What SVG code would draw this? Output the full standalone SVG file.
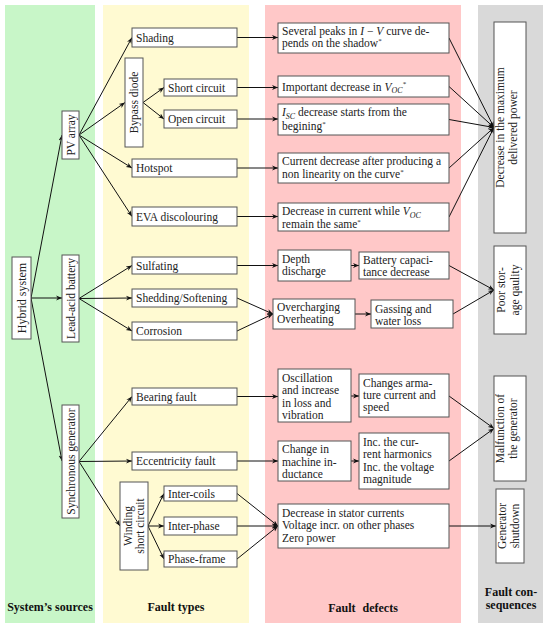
<svg xmlns="http://www.w3.org/2000/svg" width="550" height="629" viewBox="0 0 550 629">
<style>
.bx{fill:#fff;stroke:#555;stroke-width:1}
text{font-family:"Liberation Serif","Times New Roman",serif;font-size:11.5px;fill:#222}
.c{text-anchor:middle}
.b{font-weight:bold;font-size:12px;text-anchor:middle;fill:#111}
.i{font-style:italic}
.cn line{stroke:#111;stroke-width:1;marker-end:url(#a)}
</style>
<defs>
<marker id="a" viewBox="0 0 10 10" refX="10" refY="5" markerWidth="6" markerHeight="6" orient="auto" markerUnits="userSpaceOnUse">
<path d="M0,1 L10,5 L0,9 L3,5 z" fill="#111"/>
</marker>
</defs>
<g id="bg">
<rect x="5" y="5" width="90" height="618" fill="#c8f6c8"/>
<rect x="103" y="5" width="146" height="618" fill="#fffad2"/>
<rect x="265" y="5" width="196" height="618" fill="#ffc8c8"/>
<rect x="478" y="5" width="65" height="618" fill="#d9d9d9"/>
</g>
<g class="cn" id="connectors">
<line x1="31" y1="298" x2="62" y2="135"/>
<line x1="31" y1="298" x2="62" y2="298"/>
<line x1="31" y1="298" x2="62" y2="461"/>
<line x1="79" y1="135" x2="132" y2="37.5"/>
<line x1="79" y1="135" x2="125" y2="102.5"/>
<line x1="79" y1="135" x2="132" y2="168"/>
<line x1="79" y1="135" x2="132" y2="216.5"/>
<line x1="143" y1="102.5" x2="164" y2="87.5"/>
<line x1="143" y1="102.5" x2="164" y2="119"/>
<line x1="79" y1="298.5" x2="132" y2="265.5"/>
<line x1="79" y1="298.5" x2="132" y2="298"/>
<line x1="79" y1="298.5" x2="132" y2="331"/>
<line x1="79" y1="461.5" x2="132" y2="396.5"/>
<line x1="79" y1="461.5" x2="132" y2="461"/>
<line x1="79" y1="461.5" x2="120" y2="526"/>
<line x1="148" y1="526" x2="164" y2="493.5"/>
<line x1="148" y1="526" x2="164" y2="526"/>
<line x1="148" y1="526" x2="164" y2="559"/>
<line x1="237" y1="37.5" x2="278" y2="37.5"/>
<line x1="237" y1="87.5" x2="278" y2="87.5"/>
<line x1="237" y1="119" x2="278" y2="119"/>
<line x1="237" y1="168" x2="278" y2="168"/>
<line x1="237" y1="216.5" x2="278" y2="216.5"/>
<line x1="237" y1="265.5" x2="278" y2="265.5"/>
<line x1="351" y1="265.5" x2="359" y2="265.5"/>
<line x1="237" y1="298" x2="273" y2="314"/>
<line x1="237" y1="331" x2="273" y2="314"/>
<line x1="355" y1="314" x2="371" y2="314"/>
<line x1="237" y1="396.5" x2="278" y2="396.5"/>
<line x1="351" y1="396" x2="359" y2="396"/>
<line x1="237" y1="461" x2="278" y2="461"/>
<line x1="351" y1="461" x2="359" y2="461"/>
<line x1="237" y1="493.5" x2="278" y2="526"/>
<line x1="237" y1="526" x2="278" y2="526"/>
<line x1="237" y1="559" x2="278" y2="526"/>
<line x1="449" y1="38" x2="494" y2="127.5"/>
<line x1="449" y1="86.5" x2="494" y2="127.5"/>
<line x1="449" y1="119.5" x2="494" y2="127.5"/>
<line x1="449" y1="168" x2="494" y2="127.5"/>
<line x1="449" y1="217" x2="494" y2="127.5"/>
<line x1="449" y1="265.5" x2="494" y2="290"/>
<line x1="453" y1="314" x2="494" y2="290"/>
<line x1="449" y1="396" x2="494" y2="428.5"/>
<line x1="449" y1="461" x2="494" y2="428.5"/>
<line x1="449" y1="526" x2="496" y2="526"/>
</g>
<g id="hybrid"><rect class="bx" x="12" y="257" width="19" height="82"/><text class="c" transform="translate(21.5,298) rotate(-90)" y="4.5" style="font-size:12px">Hybrid system</text></g>
<g id="pv"><rect class="bx" x="62" y="111" width="17" height="48"/><text class="c" transform="translate(70.5,135) rotate(-90)" y="4">PV array</text></g>
<g id="battery"><rect class="bx" x="62" y="255" width="17" height="87"/><text class="c" transform="translate(70.5,298.5) rotate(-90)" y="4">Lead-acid battery</text></g>
<g id="generator"><rect class="bx" x="62" y="405" width="17" height="113"/><text class="c" transform="translate(70.5,461.5) rotate(-90)" y="4">Synchronous generator</text></g>
<g id="shading"><rect class="bx" x="132" y="28" width="105" height="19"/><text x="136" y="41.5">Shading</text></g>
<g id="bypass"><rect class="bx" x="125" y="58" width="18" height="89"/><text class="c" transform="translate(134,102.5) rotate(-90)" y="4">Bypass diode</text></g>
<g id="short"><rect class="bx" x="164" y="79" width="73" height="17"/><text x="168" y="91.5">Short circuit</text></g>
<g id="open"><rect class="bx" x="164" y="110" width="73" height="18"/><text x="168" y="123">Open circuit</text></g>
<g id="hotspot"><rect class="bx" x="132" y="159" width="105" height="18"/><text x="136" y="172">Hotspot</text></g>
<g id="eva"><rect class="bx" x="132" y="207" width="105" height="19"/><text x="136" y="220.5">EVA discolouring</text></g>
<g id="sulfating"><rect class="bx" x="132" y="257" width="105" height="17"/><text x="136" y="269.5">Sulfating</text></g>
<g id="shedding"><rect class="bx" x="132" y="289" width="105" height="18"/><text x="136" y="302">Shedding/Softening</text></g>
<g id="corrosion"><rect class="bx" x="132" y="322" width="105" height="18"/><text x="136" y="335">Corrosion</text></g>
<g id="bearing"><rect class="bx" x="132" y="388" width="105" height="17"/><text x="136" y="400.5">Bearing fault</text></g>
<g id="eccentricity"><rect class="bx" x="132" y="452" width="105" height="18"/><text x="136" y="465">Eccentricity fault</text></g>
<g id="winding"><rect class="bx" x="120" y="482" width="28" height="88"/><text class="c" transform="translate(134,526) rotate(-90)"><tspan x="0" y="-2">Winding</tspan><tspan x="0" y="10">short circuit</tspan></text></g>
<g id="intercoils"><rect class="bx" x="164" y="486" width="73" height="15"/><text x="168" y="497.5">Inter-coils</text></g>
<g id="interphase"><rect class="bx" x="164" y="517" width="73" height="18"/><text x="168" y="530">Inter-phase</text></g>
<g id="phaseframe"><rect class="bx" x="164" y="551" width="73" height="16"/><text x="168" y="563">Phase-frame</text></g>
<g id="peaks"><rect class="bx" x="278" y="23" width="171" height="30"/><text><tspan x="282" y="34.5">Several peaks in <tspan class="i">I</tspan> − <tspan class="i">V</tspan> curve de-</tspan><tspan x="282" y="47">pends on the shadow<tspan font-size="7" dy="-4">*</tspan></tspan></text></g>
<g id="voc"><rect class="bx" x="278" y="76" width="171" height="21"/><text x="282" y="90.5">Important decrease in <tspan class="i">V</tspan><tspan class="i" font-size="8" dy="2.5">OC</tspan><tspan font-size="7" dy="-7">*</tspan></text></g>
<g id="isc"><rect class="bx" x="278" y="104" width="171" height="31"/><text><tspan x="282" y="116"><tspan class="i">I</tspan><tspan class="i" font-size="8" dy="2.5">SC</tspan><tspan dy="-2.5"> decrease starts from the</tspan></tspan><tspan x="282" y="129.5">begining<tspan font-size="7" dy="-4">*</tspan></tspan></text></g>
<g id="nonlin"><rect class="bx" x="278" y="153" width="171" height="30"/><text><tspan x="282" y="165">Current decrease after producing a</tspan><tspan x="282" y="178">non linearity on the curve<tspan font-size="7" dy="-4">*</tspan></tspan></text></g>
<g id="same"><rect class="bx" x="278" y="203" width="171" height="28"/><text><tspan x="282" y="215">Decrease in current while <tspan class="i">V</tspan><tspan class="i" font-size="8" dy="2.5">OC</tspan></tspan><tspan x="282" y="227.5">remain the same<tspan font-size="7" dy="-4">*</tspan></tspan></text></g>
<g id="depth"><rect class="bx" x="278" y="250" width="73" height="31"/><text><tspan x="282" y="262.5">Depth</tspan><tspan x="282" y="275">discharge</tspan></text></g>
<g id="capacitance"><rect class="bx" x="359" y="252" width="90" height="27"/><text><tspan x="363" y="263.5">Battery capaci-</tspan><tspan x="363" y="275.5">tance decrease</tspan></text></g>
<g id="overcharging"><rect class="bx" x="273" y="299" width="82" height="30"/><text><tspan x="277" y="311">Overcharging</tspan><tspan x="277" y="323">Overheating</tspan></text></g>
<g id="gassing"><rect class="bx" x="371" y="300" width="82" height="28"/><text><tspan x="375" y="312.5">Gassing and</tspan><tspan x="375" y="324.5">water loss</tspan></text></g>
<g id="oscillation"><rect class="bx" x="278" y="369" width="73" height="53"/><text><tspan x="282" y="381.5">Oscillation</tspan><tspan x="282" y="394">and increase</tspan><tspan x="282" y="406.5">in loss and</tspan><tspan x="282" y="419">vibration</tspan></text></g>
<g id="armature"><rect class="bx" x="359" y="374" width="90" height="43"/><text><tspan x="363" y="386.5">Changes arma-</tspan><tspan x="363" y="399">ture current and</tspan><tspan x="363" y="411">speed</tspan></text></g>
<g id="inductance"><rect class="bx" x="278" y="441" width="73" height="40"/><text><tspan x="282" y="453">Change in</tspan><tspan x="282" y="465.5">machine in-</tspan><tspan x="282" y="478">ductance</tspan></text></g>
<g id="harmonics"><rect class="bx" x="359" y="433" width="90" height="56"/><text><tspan x="363" y="445.5">Inc.  the cur-</tspan><tspan x="363" y="458">rent harmonics</tspan><tspan x="363" y="470.5">Inc.  the voltage</tspan><tspan x="363" y="483">magnitude</tspan></text></g>
<g id="stator"><rect class="bx" x="278" y="504" width="171" height="44"/><text><tspan x="282" y="516.5">Decrease in stator currents</tspan><tspan x="282" y="529">Voltage incr.  on other phases</tspan><tspan x="282" y="541.5">Zero power</tspan></text></g>
<g id="maxpower"><rect class="bx" x="494" y="22" width="32" height="211"/><text class="c" transform="translate(510,127.5) rotate(-90)"><tspan x="0" y="-6">Decrease in the maximum</tspan><tspan x="0" y="7">delivered power</tspan></text></g>
<g id="storage"><rect class="bx" x="494" y="246" width="32" height="88"/><text class="c" transform="translate(510,290) rotate(-90)"><tspan x="0" y="-5">Poor stor-</tspan><tspan x="0" y="8.5">age qaulity</tspan></text></g>
<g id="malfunction"><rect class="bx" x="494" y="376" width="32" height="105"/><text class="c" transform="translate(510,428.5) rotate(-90)"><tspan x="0" y="-6">Malfunction of</tspan><tspan x="0" y="7">the generator</tspan></text></g>
<g id="shutdown"><rect class="bx" x="496" y="489" width="28" height="74"/><text class="c" transform="translate(510,526) rotate(-90)"><tspan x="0" y="-4">Generator</tspan><tspan x="0" y="9">shutdown</tspan></text></g>
<g id="labels">
<text class="b" x="50" y="611">System’s sources</text>
<text class="b" x="176" y="611">Fault types</text>
<text class="b" x="363" y="612" word-spacing="4">Fault defects</text>
<text class="b" x="511" y="596">Fault con-</text>
<text class="b" x="511" y="609">sequences</text>
</g>
</svg>
